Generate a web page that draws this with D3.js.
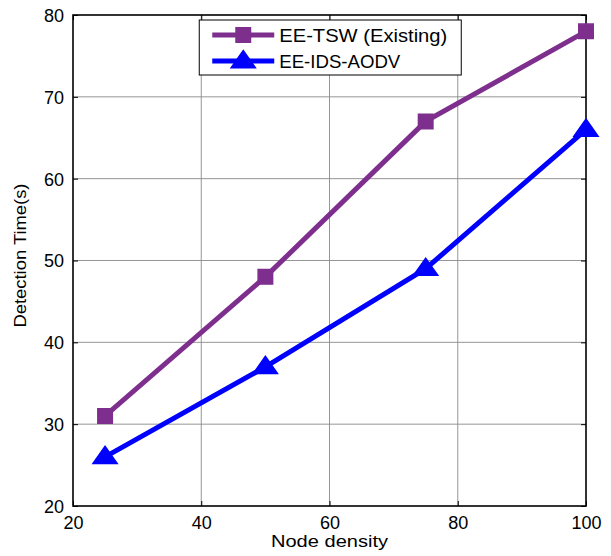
<!DOCTYPE html>
<html>
<head>
<meta charset="utf-8">
<script src="https://cdn.jsdelivr.net/npm/d3@7"></script>
<style>
  body { margin: 0; background: #fff; }
  text { font-family: "Liberation Sans", Arial, sans-serif; }
</style>
</head>
<body>
<div id="chart"></div>
<script>
// chart data
const nodeDensity = [25, 50, 75, 100];
const tswValues = [31, 48, 67, 78];
const idsValues = [26, 37, 49, 66];
const xTicks = [20, 40, 60, 80, 100];
const yTicks = [20, 30, 40, 50, 60, 70, 80];
const seriesNames = ["EE-TSW (Existing)", "EE-IDS-AODV"];

const W = 611, H = 556;
const margin = { top: 15, right: 25, bottom: 50, left: 73 };
const width = W - margin.left - margin.right;
const height = H - margin.top - margin.bottom;

const purple = "#7e2f8e";
const blue = "#0000ff";

const svg = d3.select("#chart")
  .append("svg")
    .attr("width", W)
    .attr("height", H)
  .append("g")
    .attr("transform", `translate(${margin.left},${margin.top})`);

const x = d3.scaleLinear().domain([20, 100]).range([0, width]);
const y = d3.scaleLinear().domain([20, 80]).range([height, 0]);

// grid lines
svg.append("g")
  .selectAll("line")
  .data(xTicks.slice(1, -1))
  .enter().append("line")
    .attr("x1", d => x(d)).attr("x2", d => x(d))
    .attr("y1", 0).attr("y2", height)
    .style("stroke", "#8a8a8a").style("stroke-width", 0.9);
svg.append("g")
  .selectAll("line")
  .data(yTicks.slice(1, -1))
  .enter().append("line")
    .attr("x1", 0).attr("x2", width)
    .attr("y1", d => y(d)).attr("y2", d => y(d))
    .style("stroke", "#8a8a8a").style("stroke-width", 0.9);

// axes (ticks inward, matlab style)
const xAxis = svg.append("g")
  .attr("transform", `translate(0,${height})`)
  .call(d3.axisBottom(x).tickValues(xTicks).tickSizeInner(-5).tickSizeOuter(0).tickPadding(10));
const yAxis = svg.append("g")
  .call(d3.axisLeft(y).tickValues(yTicks).tickSizeInner(-5).tickSizeOuter(0).tickPadding(9));
[xAxis, yAxis].forEach(a => {
  a.select(".domain").remove();
  a.selectAll("line").style("stroke", "#000");
  a.selectAll("text").style("font-size", "18px").style("fill", "#000")
    .style("font-family", "Liberation Sans, Arial, sans-serif");
});
yAxis.selectAll("text").attr("dy", "0.36em");
// top/right ticks
svg.append("g")
  .call(d3.axisTop(x).tickValues(xTicks).tickSizeInner(-5).tickSizeOuter(0).tickFormat(""))
  .call(g => g.select(".domain").remove());
svg.append("g")
  .attr("transform", `translate(${width},0)`)
  .call(d3.axisRight(y).tickValues(yTicks).tickSizeInner(-5).tickSizeOuter(0).tickFormat(""))
  .call(g => g.select(".domain").remove());

// frame
svg.append("rect")
  .attr("x", 0).attr("y", 0)
  .attr("width", width).attr("height", height)
  .style("fill", "none").style("stroke", "#000").style("stroke-width", 1.6);

// axis titles
svg.append("text")
  .attr("x", width / 2).attr("y", height + 41)
  .attr("text-anchor", "middle")
  .attr("textLength", 117).attr("lengthAdjust", "spacingAndGlyphs")
  .style("font-size", "17px")
  .text("Node density");
svg.append("text")
  .attr("transform", `translate(${-47},${height / 2 - 5}) rotate(-90)`)
  .attr("text-anchor", "middle")
  .attr("textLength", 144).attr("lengthAdjust", "spacingAndGlyphs")
  .style("font-size", "16.5px")
  .text("Detection Time(s)");

const line = d3.line().x(d => x(d[0])).y(d => y(d[1]));
const tswData = nodeDensity.map((d, i) => [d, tswValues[i]]);
const idsData = nodeDensity.map((d, i) => [d, idsValues[i]]);

const sq = d3.symbol().type(d3.symbolSquare).size(210);
const tri = d3.symbol().type(d3.symbolTriangle).size(210);

svg.append("path")
  .datum(tswData)
  .attr("d", line)
  .style("fill", "none").style("stroke", purple).style("stroke-width", 5);
svg.selectAll(".sq")
  .data(tswData)
  .enter().append("path")
    .attr("transform", d => `translate(${x(d[0])},${y(d[1])})`)
    .attr("d", sq)
    .style("fill", purple).style("stroke", purple).style("stroke-width", 1.5);

svg.append("path")
  .datum(idsData)
  .attr("d", line)
  .style("fill", "none").style("stroke", blue).style("stroke-width", 5);
svg.selectAll(".tri")
  .data(idsData)
  .enter().append("path")
    .attr("transform", d => `translate(${x(d[0])},${y(d[1]) + 1}) scale(1.1,0.9)`)
    .attr("d", tri)
    .style("fill", blue).style("stroke", blue).style("stroke-width", 1.5);

// legend
const lg = svg.append("g").attr("transform", `translate(${x(40) - 2},${5})`);
lg.append("rect")
  .attr("width", 262).attr("height", 55)
  .style("fill", "#fff").style("stroke", "#000").style("stroke-width", 1);
const legendItems = [
  { name: seriesNames[0], color: purple, sym: sq, len: 168 },
  { name: seriesNames[1], color: blue, sym: tri, len: 121 }
];
legendItems.forEach((it, i) => {
  const cy = 15 + i * 26;
  lg.append("line")
    .attr("x1", 13).attr("x2", 75).attr("y1", cy).attr("y2", cy)
    .style("stroke", it.color).style("stroke-width", 5);
  lg.append("path")
    .attr("transform", `translate(44,${cy + (i ? 1 : 0)})` + (i ? " scale(1.1,0.9)" : ""))
    .attr("d", it.sym)
    .style("fill", it.color).style("stroke", it.color).style("stroke-width", 1.5);
  lg.append("text")
    .attr("x", 80).attr("y", cy + 6.5)
    .attr("textLength", it.len).attr("lengthAdjust", "spacingAndGlyphs")
    .style("font-size", "18px")
    .text(it.name);
});
</script>
</body>
</html>
